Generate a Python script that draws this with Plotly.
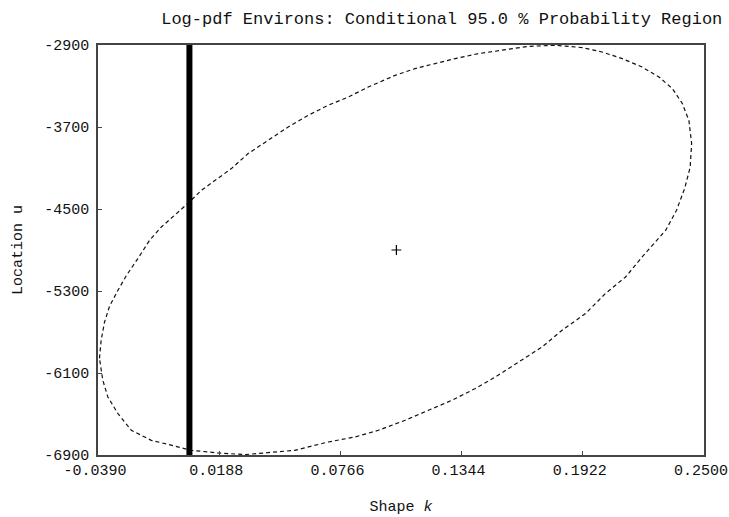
import plotly.graph_objects as go

# ---- data ----
ellipse_k = [-0.0383, -0.0375, -0.0359, -0.0335, -0.0295, -0.0254, -0.0200, -0.0144, -0.0088, -0.0025,
             0.0046, 0.0103, 0.0182, 0.0246, 0.0326, 0.0421, 0.0517, 0.0612, 0.0708, 0.0804,
             0.0899, 0.1027, 0.1122, 0.1218, 0.1313, 0.1425, 0.1537, 0.1664, 0.1791, 0.1919,
             0.2014, 0.2110, 0.2205, 0.2285, 0.2349, 0.2397, 0.2428, 0.2441, 0.2434, 0.2408,
             0.2369, 0.2317, 0.2205, 0.2126, 0.2030, 0.1935, 0.1823, 0.1728, 0.1616, 0.1505,
             0.1409, 0.1298, 0.1186, 0.1075, 0.0947, 0.0836, 0.0708, 0.0549, 0.0421, 0.0310,
             0.0182, 0.0055, -0.0057, -0.0136, -0.0231, -0.0295, -0.0343, -0.0367, -0.0383]
ellipse_u = [-5957, -5781, -5605, -5449, -5293, -5147, -4984, -4805, -4676, -4561,
             -4432, -4318, -4203, -4106, -3959, -3830, -3700, -3586, -3488, -3407,
             -3310, -3196, -3130, -3081, -3033, -2984, -2952, -2913, -2903, -2925,
             -2968, -3033, -3115, -3212, -3325, -3472, -3635, -3862, -4093, -4298,
             -4513, -4708, -4968, -5163, -5325, -5520, -5683, -5846, -5993, -6139,
             -6252, -6366, -6464, -6561, -6659, -6724, -6773, -6854, -6877, -6896,
             -6880, -6854, -6796, -6757, -6659, -6496, -6334, -6171, -5957]

vline_k = [0.0046, 0.0046]
vline_u = [-2900, -6900]

center_k = [0.1033]
center_u = [-4900]

x_tickvals = [-0.0390, 0.0188, 0.0766, 0.1344, 0.1922, 0.2500]
x_ticktext = ["-0.0390", "0.0188", "0.0766", "0.1344", "0.1922", "0.2500"]
y_tickvals = [-6900, -6100, -5300, -4500, -3700, -2900]
y_ticktext = ["-6900", "-6100", "-5300", "-4500", "-3700", "-2900"]

title_text = "Log-pdf Environs: Conditional 95.0 % Probability Region"
x_title = "Shape <i>k</i>"
y_title = "Location u"

FONT = "Liberation Mono, Courier New, monospace"

fig = go.Figure()
fig.add_trace(go.Scatter(x=ellipse_k, y=ellipse_u, mode="lines",
                         line=dict(color="#111", width=1.2, dash="4px,3px"),
                         showlegend=False, hoverinfo="skip"))
fig.add_trace(go.Scatter(x=vline_k, y=vline_u, mode="lines",
                         line=dict(color="black", width=6),
                         showlegend=False, hoverinfo="skip"))
fig.add_trace(go.Scatter(x=center_k, y=center_u, mode="markers",
                         marker=dict(symbol="cross-thin", size=7,
                                     line=dict(color="black", width=1.2)),
                         showlegend=False, hoverinfo="skip"))

fig.update_layout(
    width=729, height=517,
    margin=dict(l=98, r=25, t=45, b=62, autoexpand=False),
    paper_bgcolor="white", plot_bgcolor="white",
    font=dict(family=FONT, size=15, color="#111"),
    title=dict(text=title_text, x=0.606, xanchor="center", y=0.965, yanchor="middle",
               font=dict(family=FONT, size=17, color="#111")),
)
fig.update_xaxes(range=[-0.039, 0.25], tickvals=x_tickvals, ticktext=x_ticktext,
                 ticks="inside", ticklen=4, tickcolor="#444", tickwidth=1,
                 showline=True, mirror=True, linecolor="#444", linewidth=1.5,
                 showgrid=False, zeroline=False, automargin=False,
                 ticklabeloverflow="allow", ticklabelshift=-3,
                 title=dict(text=x_title, standoff=22, font=dict(size=15)))
fig.update_yaxes(range=[-6900, -2900], tickvals=y_tickvals, ticktext=y_ticktext,
                 ticks="inside", ticklen=4, tickcolor="#444", tickwidth=1,
                 showline=True, mirror=True, linecolor="#444", linewidth=1.5,
                 showgrid=False, zeroline=False, ticklabelstandoff=4, automargin=False,
                 ticklabeloverflow="allow",
                 title=dict(text=y_title, standoff=18, font=dict(size=15)))

fig.write_html("out.html", config={"displayModeBar": False},
               post_script="document.body.style.margin='0';document.body.style.overflow='hidden';")
